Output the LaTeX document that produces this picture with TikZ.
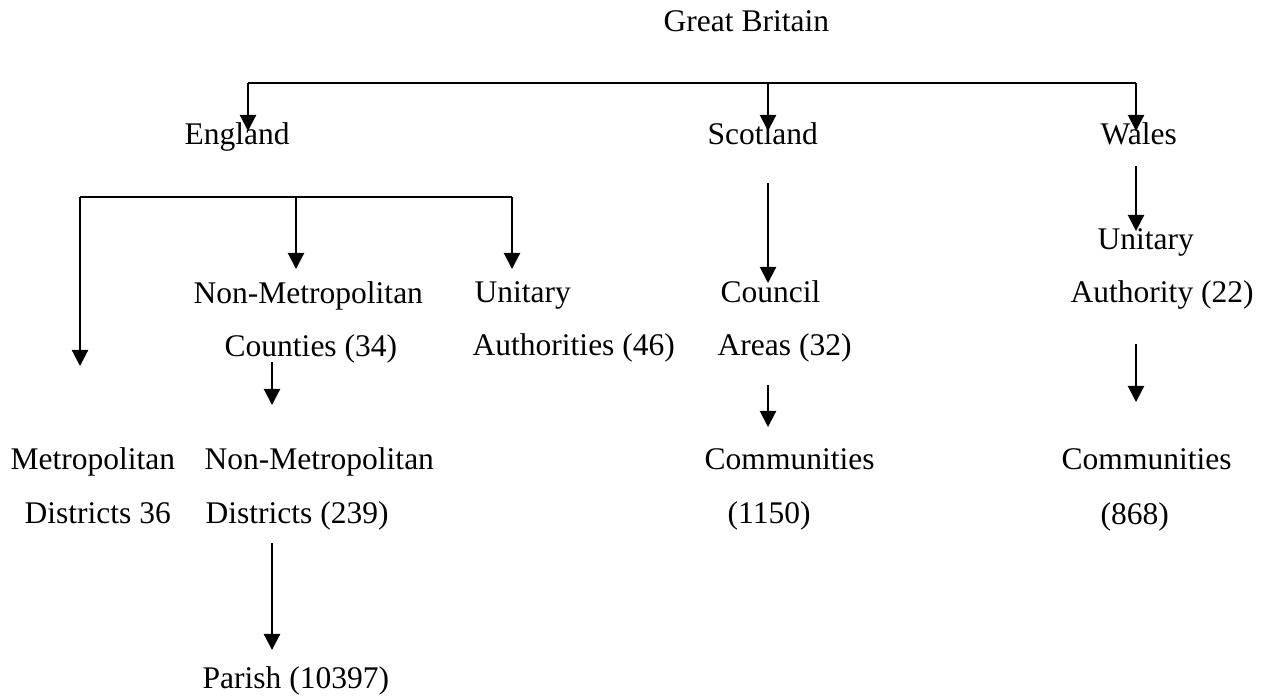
\documentclass[tikz,border=0pt]{standalone}
\usepackage{fontspec}
\setmainfont{Liberation Serif}
\usetikzlibrary{arrows.meta,positioning}

\begin{document}
\begin{tikzpicture}[x=0.01cm,y=-0.01cm,
		lbl/.style={anchor=base west,inner sep=0pt,font=\fontsize{8.96pt}{10pt}\selectfont},
		ln/.style={line width=0.6pt},
		arr/.style={line width=0.6pt,-{Triangle[width=4.6pt,length=4.6pt]}}]
		\useasboundingbox (0,0) rectangle (1261,696);
		% labels
		\node[lbl] (gb) at (663,31) {Great Britain};
		\node[lbl] (eng) at (184,144) {England};
		\node[lbl] (scot) at (707,144) {Scotland};
		\node[lbl] (wal) at (1100,144) {Wales};
		\node[lbl] (ncty1) at (193,303) {Non-Metropolitan};
		\node[lbl] (ncty2) at (224,356) {Counties (34)};
		\node[lbl] (euni1) at (474,302) {Unitary};
		\node[lbl] (euni2) at (472,355) {Authorities (46)};
		\node[lbl] (coun1) at (720,302) {Council};
		\node[lbl] (coun2) at (717,355) {Areas (32)};
		\node[lbl] (wuni1) at (1097,249) {Unitary};
		\node[lbl] (wuni2) at (1070,302) {Authority (22)};
		\node[lbl] (mdis1) at (10,469) {Metropolitan};
		\node[lbl] (mdis2) at (24,523) {Districts 36};
		\node[lbl] (ndis1) at (204,469) {Non-Metropolitan};
		\node[lbl] (ndis2) at (205,523) {Districts (239)};
		\node[lbl] (scom1) at (704,469) {Communities};
		\node[lbl] (scom2) at (727,523) {(1150)};
		\node[lbl] (wcom1) at (1061,469) {Communities};
		\node[lbl] (wcom2) at (1100,524) {(868)};
		\node[lbl] (par) at (202,688) {Parish (10397)};
		% arrow ends
		\coordinate (gb-e) at (248,83);
		\coordinate (gb-s) at (768,83);
		\coordinate (gb-w) at (1136,83);
		\coordinate (eng-m) at (80,197);
		\coordinate (eng-n) at (296,197);
		\coordinate (eng-u) at (512,197);
		\draw[ln] (gb-e) -- (gb-w);
		\draw[arr] (gb-e) -- (248,131);
		\draw[arr] (gb-s) -- (768,131);
		\draw[arr] (gb-w) -- (1136,131);
		\draw[ln] (eng-m) -- (eng-u);
		\draw[arr] (eng-m) -- (80,366);
		\draw[arr] (eng-n) -- (296,269);
		\draw[arr] (eng-u) -- (512,269);
		\draw[arr] (768,183) -- (768,283);
		\draw[arr] (1136,166) -- (1136,231);
		\draw[arr] (272,362) -- (272,405);
		\draw[arr] (768,385) -- (768,427);
		\draw[arr] (1136,344) -- (1136,402);
		\draw[arr] (272,543) -- (272,650);
		\end{tikzpicture}
\end{document}
